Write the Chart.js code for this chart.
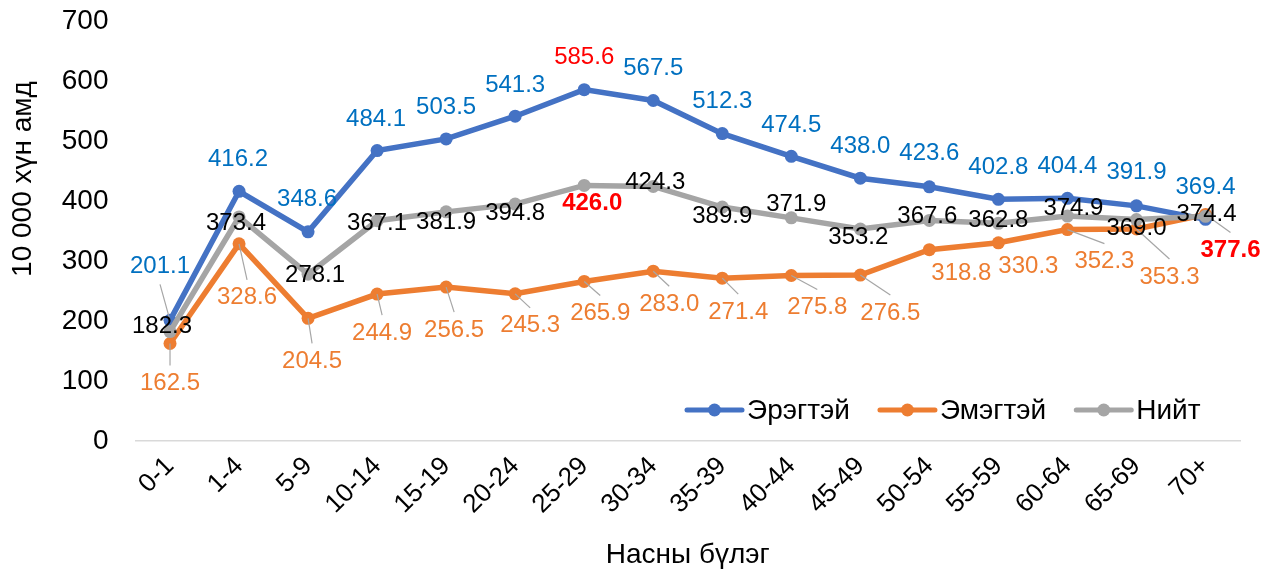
<!DOCTYPE html>
<html>
<head>
<meta charset="utf-8">
<script src="https://cdn.jsdelivr.net/npm/chart.js@4.4.1/dist/chart.umd.min.js"></script>
<style>
  html, body { margin: 0; padding: 0; background: #fff; }
  #wrap { width: 1271px; height: 573px; }
</style>
</head>
<body>
<div id="wrap"><canvas id="chart" width="1271" height="573"></canvas></div>
<script>
// age groups and rates per 10 000 people
const ageGroups = ['0-1', '1-4', '5-9', '10-14', '15-19', '20-24', '25-29', '30-34',
  '35-39', '40-44', '45-49', '50-54', '55-59', '60-64', '65-69', '70+'];
const maleRates = [201.1, 416.2, 348.6, 484.1, 503.5, 541.3, 585.6, 567.5,
  512.3, 474.5, 438.0, 423.6, 402.8, 404.4, 391.9, 369.4];
const femaleRates = [162.5, 328.6, 204.5, 244.9, 256.5, 245.3, 265.9, 283.0,
  271.4, 275.8, 276.5, 318.8, 330.3, 352.3, 353.3, 377.6];
const totalRates = [182.3, 373.4, 278.1, 367.1, 381.9, 394.8, 426.0, 424.3,
  389.9, 371.9, 353.2, 367.6, 362.8, 374.9, 369.0, 374.4];
const seriesNames = ['Эрэгтэй', 'Эмэгтэй', 'Нийт'];

// label placement (pixel offsets from the point), leader lines, highlights
const maleLabelOffsets = [[-10,-54],[-1,-32],[-1,-32],[-1,-31],[0,-32],[0,-31],[0,-32],[0,-32],
  [0,-32],[0,-31],[0,-32],[0,-33],[0,-32],[0,-32],[0,-33],[0,-32]];
const femaleLabelOffsets = [[0,40],[8,54],[4,43],[5,39],[8,43],[15,32],[16,32],[16,33],
  [16,34],[26,32],[30,38],[32,24],[30,24],[37,32],[33,48],[25,36]];
const totalLabelOffsets = [[-8,-5],[-3,6],[7,1],[0,3],[0,11],[0,9],[8,18],[2,-4],
  [0,9],[5,-13],[-2,8],[-2,-4],[0,-3],[6,-8],[0,9],[1,-2]];
const maleLeaders = [0];
const femaleLeaders = [0,1,2,3,4,5,6,7,8,9,10,13,14,15];
const totalLeaders = [];
const maleRed = {6: 'normal'};
const femaleRed = {15: 'bold'};
const totalRed = {6: 'bold'};

const FONT = "'Liberation Sans', Arial, sans-serif";
const BLUE = '#4472C4', ORANGE = '#ED7D31', GREY = '#A5A5A5';

function lineSet(label, data, color, order, extra) {
  return Object.assign({
    label: label,
    data: data,
    borderColor: color,
    backgroundColor: color,
    borderWidth: 5.5,
    pointRadius: 6.5,
    pointHoverRadius: 6.5,
    pointBorderWidth: 0,
    tension: 0,
    order: order
  }, extra);
}

const labelPlugin = {
  id: 'valueLabels',
  afterDatasetsDraw(chart) {
    const ctx = chart.ctx;
    chart.data.datasets.forEach((ds, di) => {
      const meta = chart.getDatasetMeta(di);
      meta.data.forEach((pt, i) => {
        const off = ds.labelOffsets[i];
        const lx = pt.x + off[0], ly = pt.y + off[1];
        if (ds.leaders.indexOf(i) >= 0) {
          const ey = off[1] > 0 ? ly - 18 : ly + 18;
          ctx.save();
          ctx.strokeStyle = '#A6A6A6';
          ctx.lineWidth = 1.2;
          ctx.beginPath();
          ctx.moveTo(pt.x, pt.y);
          ctx.lineTo(lx, ey);
          ctx.stroke();
          ctx.restore();
        }
      });
    });
    chart.data.datasets.forEach((ds, di) => {
      const meta = chart.getDatasetMeta(di);
      meta.data.forEach((pt, i) => {
        const off = ds.labelOffsets[i];
        const red = ds.redLabels[i];
        ctx.save();
        ctx.font = (red === 'bold' ? 'bold ' : '') + '24px ' + FONT;
        ctx.fillStyle = red ? '#FF0000' : ds.labelColor;
        ctx.textAlign = 'center';
        ctx.textBaseline = 'middle';
        ctx.fillText(ds.data[i].toFixed(1), pt.x + off[0], pt.y + off[1]);
        ctx.restore();
      });
    });
  }
};

const decorPlugin = {
  id: 'decor',
  afterDraw(chart) {
    const ctx = chart.ctx;
    const area = chart.chartArea;
    ctx.save();
    ctx.fillStyle = '#000';
    ctx.font = '28px ' + FONT;
    ctx.textAlign = 'center';
    ctx.textBaseline = 'middle';
    // axis titles
    ctx.fillText('Насны бүлэг', (area.left + area.right) / 2, 555);
    ctx.save();
    ctx.translate(23, 179);
    ctx.rotate(-Math.PI / 2);
    ctx.fillText('10 000 хүн амд', 0, 0);
    ctx.restore();
    // legend
    let x = 687;
    const y = 410;
    ctx.textAlign = 'left';
    chart.data.datasets.forEach(ds => {
      ctx.strokeStyle = ds.borderColor;
      ctx.lineWidth = 5;
      ctx.lineCap = 'round';
      ctx.beginPath();
      ctx.moveTo(x, y);
      ctx.lineTo(x + 55, y);
      ctx.stroke();
      ctx.fillStyle = ds.borderColor;
      ctx.beginPath();
      ctx.arc(x + 27.5, y, 6.5, 0, Math.PI * 2);
      ctx.fill();
      ctx.fillStyle = '#000';
      ctx.fillText(ds.label, x + 60, y + 1);
      x += 60 + ctx.measureText(ds.label).width + 30;
    });
    ctx.restore();
  }
};

new Chart(document.getElementById('chart'), {
  type: 'line',
  data: {
    labels: ageGroups,
    datasets: [
      lineSet(seriesNames[0], maleRates, BLUE, 2,
        {labelOffsets: maleLabelOffsets, leaders: maleLeaders, redLabels: maleRed, labelColor: '#0070C0'}),
      lineSet(seriesNames[1], femaleRates, ORANGE, 1,
        {labelOffsets: femaleLabelOffsets, leaders: femaleLeaders, redLabels: femaleRed, labelColor: '#ED7D31'}),
      lineSet(seriesNames[2], totalRates, GREY, 0,
        {labelOffsets: totalLabelOffsets, leaders: totalLeaders, redLabels: totalRed, labelColor: '#000000'})
    ]
  },
  options: {
    responsive: false,
    animation: false,
    devicePixelRatio: 1,
    layout: { padding: { top: 21, right: 31, left: 0, bottom: 0 } },
    plugins: { legend: { display: false }, tooltip: { enabled: false } },
    scales: {
      x: {
        offset: true,
        grid: { display: false, drawTicks: false },
        border: { display: true, color: '#D9D9D9', width: 1.5 },
        ticks: { minRotation: 45, maxRotation: 45, autoSkip: false, padding: 10,
          color: '#000', font: { size: 26, family: FONT } },
        afterFit(s) { s.height = 132; s.paddingTop = 0; s.paddingBottom = 0; }
      },
      y: {
        min: 0, max: 700,
        ticks: { stepSize: 100, padding: 27, color: '#000', font: { size: 28, family: FONT } },
        grid: { display: false, drawTicks: false },
        border: { display: false },
        afterFit(s) { s.width = 135.5; s.paddingTop = 0; s.paddingBottom = 0; }
      }
    }
  },
  plugins: [labelPlugin, decorPlugin]
});
</script>
</body>
</html>
